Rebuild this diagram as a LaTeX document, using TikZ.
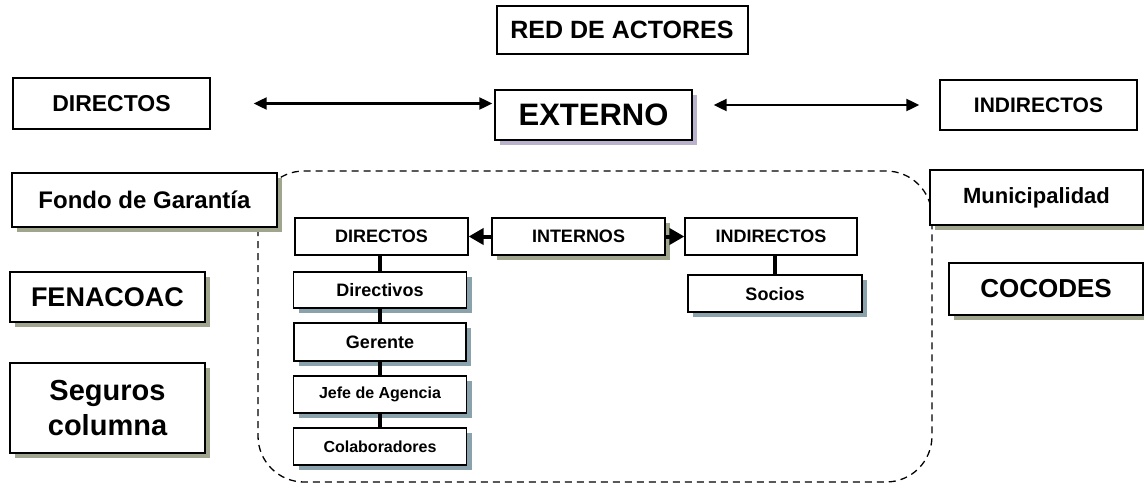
\documentclass[tikz,border=0pt]{standalone}
\usepackage{fontspec}
\setmainfont{Liberation Sans}
\usetikzlibrary{arrows.meta,shadows}

\definecolor{sombraOliva}{RGB}{160,166,142}
\definecolor{sombraLila}{RGB}{186,178,204}
\definecolor{sombraAzul}{RGB}{138,162,172}

\begin{document}
\begin{tikzpicture}[x=1pt, y=-1pt, >={Triangle[length=13pt,width=12pt]},
  caja/.style={draw, line width=1.4pt, fill=white, inner sep=0pt, align=center,
    font=\bfseries\fontsize{#1}{#1}\selectfont},
  sombra/.style={drop shadow={shadow xshift=5pt, shadow yshift=-5pt, fill=#1, opacity=1}},
  flecha/.style={<->, line width=2.2pt},
  gruesa/.style={-{Triangle[length=15pt,width=16pt]}, line width=4pt},
  tallo/.style={line width=4.5pt}]

\useasboundingbox (0,0) rectangle (1144,485);

% marco punteado de los actores internos
\draw[dash pattern=on 7pt off 5pt, line width=1.3pt, rounded corners=46pt]
  (258,171) rectangle (932,482);

% titulo
\node[caja=25, line width=2pt, minimum width=251pt, minimum height=48pt] (titulo)
  at (622,30) {RED DE ACTORES};

% actores externos
\node[caja=23, minimum width=197pt, minimum height=51pt] (dirExt) at (111.5,103.5) {DIRECTOS};
\node[caja=31, sombra=sombraLila, minimum width=197pt, minimum height=50pt] (ext)
  at (593.5,115) {EXTERNO};
\node[caja=21, minimum width=197pt, minimum height=50pt] (indExt) at (1038.5,105) {INDIRECTOS};

\draw[flecha, shorten <=43pt, shorten >=2pt] (dirExt.east) -- (dirExt.east -| ext.west);
\draw[flecha, shorten <=21pt, shorten >=20pt] (ext.east |- indExt.west) -- (indExt.west);

% columna izquierda
\node[caja=24, sombra=sombraOliva, minimum width=265pt, minimum height=54pt] (fondo)
  at (144.5,200) {Fondo de Garantía};
\node[caja=27, sombra=sombraOliva, minimum width=195pt, minimum height=50pt] (fena)
  at (107.5,297) {FENACOAC};
\node[caja=29, sombra=sombraOliva, minimum width=195pt, minimum height=90pt,
  font=\bfseries\fontsize{29}{35}\selectfont] (seguros) at (107.5,408) {Seguros\\columna};

% columna derecha
\node[caja=22, sombra=sombraOliva, minimum width=213pt, minimum height=55pt] (muni)
  at (1036.5,197.5) {Municipalidad};
\node[caja=26, sombra=sombraOliva, minimum width=194pt, minimum height=52pt] (cocodes)
  at (1046,289) {COCODES};

% actores internos
\node[caja=18, line width=1.2pt, minimum width=173pt, minimum height=37pt] (dirInt)
  at (381.5,236.5) {DIRECTOS};
\node[caja=18, line width=1.2pt, sombra=sombraOliva, minimum width=173pt, minimum height=37pt] (intn)
  at (578.5,236.5) {INTERNOS};
\node[caja=18, line width=1.2pt, minimum width=172pt, minimum height=37pt] (indInt)
  at (771,236.5) {INDIRECTOS};

\draw[gruesa] (intn.west) -- (dirInt.east);
\draw[gruesa] (intn.east) -- (indInt.west);

% jerarquia de directos
\node[caja=18, line width=1.2pt, sombra=sombraAzul, minimum width=173pt, minimum height=36pt] (dirvo)
  at (380,290) {Directivos};
\node[caja=18, line width=1.2pt, sombra=sombraAzul, minimum width=172pt, minimum height=38pt] (ger)
  at (380,342) {Gerente};
\node[caja=16, line width=1.2pt, sombra=sombraAzul, minimum width=173pt, minimum height=37pt] (jefe)
  at (380,394.5) {Jefe de Agencia};
\node[caja=16, line width=1.2pt, sombra=sombraAzul, minimum width=173pt, minimum height=37pt] (colab)
  at (380,446.5) {Colaboradores};

\draw[tallo] (dirvo.north) -- (dirvo.north |- dirInt.south);
\draw[tallo] (dirvo.south) -- (ger.north);
\draw[tallo] (ger.south) -- (jefe.north);
\draw[tallo] (jefe.south) -- (colab.north);

% indirectos
\node[caja=18, line width=1.2pt, sombra=sombraAzul, minimum width=174pt, minimum height=37pt,
  text depth=-3pt] (socios) at (775,293.5) {Socios};
\draw[tallo] (socios.north) -- (socios.north |- indInt.south);

\end{tikzpicture}
\end{document}
